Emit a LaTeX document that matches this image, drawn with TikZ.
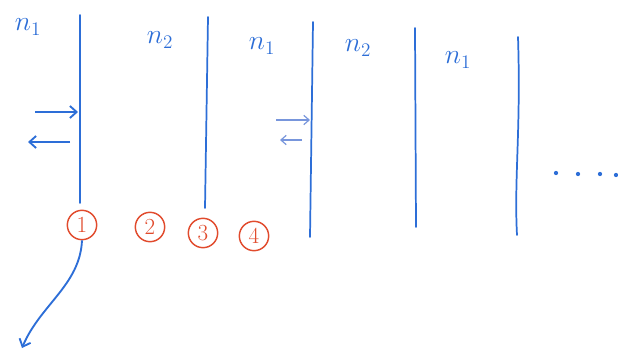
\documentclass[tikz,border=0pt]{standalone}
\usetikzlibrary{arrows.meta}
\definecolor{pen}{RGB}{45,110,215}
\definecolor{redpen}{RGB}{225,75,45}
\definecolor{faint}{RGB}{120,150,220}
\begin{document}
\begin{tikzpicture}[x=0.75pt,y=-0.75pt,
  wall/.style={draw=pen,line width=1.3pt,line cap=round},
  lab/.style={text=pen,font=\fontsize{22}{22}\selectfont},
  num/.style={draw=redpen,text=redpen,circle,line width=1.1pt,minimum size=22pt,inner sep=0pt,font=\LARGE},
  ray/.style={draw=pen,line width=1.4pt,-{Straight Barb[length=5pt,width=9pt]}},
  fray/.style={draw=faint,line width=0.9pt,-{Straight Barb[length=4pt,width=7pt]}}]
\useasboundingbox (0,0) rectangle (618,353);
% walls
\coordinate (t1) at (80,15);  \coordinate (b1) at (80,203);
\coordinate (t2) at (208,17); \coordinate (b2) at (205,208);
\coordinate (t3) at (313,22); \coordinate (b3) at (310,237);
\coordinate (t4) at (415,28); \coordinate (b4) at (416,227);
\coordinate (t5) at (518,37); \coordinate (b5) at (517,235);
\draw[wall] (t1) -- (b1);
\draw[wall] (t2) -- (b2);
\draw[wall] (t3) -- (b3);
\draw[wall] (t4) -- (b4);
\draw[wall] (t5) .. controls (521,130) and (514,180) .. (b5);
% labels
\node[lab] (l1) at (28,27) {$n_1$};
\node[lab] (l2) at (160,40) {$n_2$};
\node[lab] (l3) at (262,46) {$n_1$};
\node[lab] (l4) at (358,48) {$n_2$};
\node[lab] (l5) at (458,60) {$n_1$};
% arrows at first wall
\coordinate (a1s) at (35,112); \coordinate (a1e) at (78,112);
\coordinate (a2s) at (70,142); \coordinate (a2e) at (28,142);
\draw[ray] (a1s) -- (a1e);
\draw[ray] (a2s) -- (a2e);
% faint arrows at third wall
\coordinate (f1s) at (276,120); \coordinate (f1e) at (310,120);
\coordinate (f2s) at (302,140); \coordinate (f2e) at (280,140);
\draw[fray] (f1s) -- (f1e);
\draw[fray] (f2s) -- (f2e);
% numbered circles
\node[num] (c1) at (82,225) {1};
\node[num] (c2) at (150,227) {2};
\node[num] (c3) at (203,233) {3};
\node[num] (c4) at (254,236) {4};
% transmitted ray
\coordinate (end) at (22,348);
\draw[ray] (c1.south) .. controls (80,285) and (40,305) .. (end);
% dots
\foreach \x/\y in {556/173,578/174,600/174,616/175}
  \fill[pen] (\x,\y) circle (1.6pt);
\end{tikzpicture}
\end{document}
